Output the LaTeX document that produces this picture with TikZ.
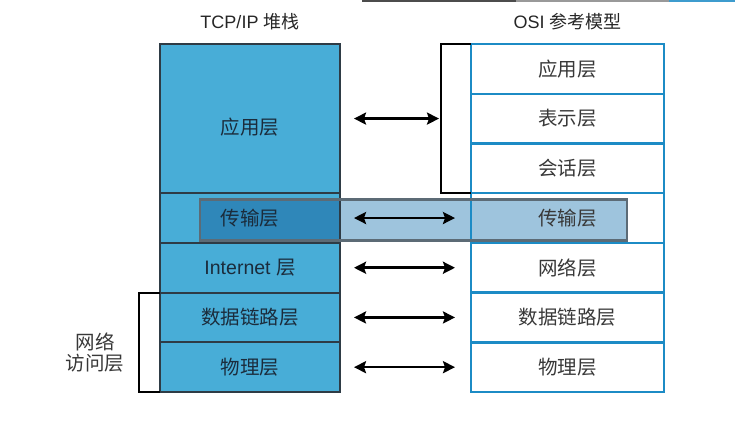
\documentclass[tikz,border=0pt]{standalone}
\usepackage{fontspec}
\setmainfont{Liberation Sans}
\newfontfamily\cjk{Noto Sans CJK SC}
\usetikzlibrary{arrows.meta}
\pgfdeclarelayer{back}
\pgfsetlayers{back,main}
\definecolor{tcpblue}{HTML}{48ADD7}
\definecolor{tcpline}{HTML}{2E3B45}
\definecolor{osiblue}{HTML}{1C8BC5}
\definecolor{hilight}{HTML}{9EC4DD}
\definecolor{hidark}{HTML}{2F87B9}
\definecolor{hiborder}{HTML}{5C6B76}
\definecolor{tcptext}{HTML}{1B2C3C}
\definecolor{ositext}{HTML}{383838}
\begin{document}
\begin{tikzpicture}[x=1pt, y=-1pt,
  rowfont/.style={font=\fontsize{19.5}{21}\selectfont},
  tcprow/.style={draw=tcpline, line width=1.8pt, minimum width=180pt, minimum height=49.72pt,
    inner sep=0pt, outer sep=0pt, text=tcptext, rowfont},
  osirow/.style={draw=osiblue, line width=2.4pt, minimum width=193pt, minimum height=49.72pt,
    inner sep=0pt, outer sep=0pt, text=ositext, rowfont},
  layerarrow/.style={{Stealth[length=12pt,width=12pt,inset=2pt]}-{Stealth[length=12pt,width=12pt,inset=2pt]}, line width=2.5pt},
  brace/.style={line width=2pt, line join=miter}]
  \useasboundingbox (0,0) rectangle (735,425);
  \fill[black!70] (362,0) rectangle (516,2.5);
  \fill[black!40] (516,0) rectangle (669,2.5);
  \fill[osiblue!85!white] (669,0) rectangle (735,2.5);

  \node[font=\fontsize{18}{20}\selectfont, text=black!85] (tcphead) at (250,22) {TCP/IP {\cjk 堆栈}};
  \node[font=\fontsize{18}{20}\selectfont, text=black!85] (osihead) at (567.5,22) {OSI {\cjk 参考模型}};

  \node[tcprow, minimum height=149.16pt, anchor=north] (tapp) at (250,44) {};
  \node[tcprow, anchor=north] (ttrans) at (tapp.south) {\cjk 传输层};
  \node[tcprow, anchor=north] (tnet) at (ttrans.south) {Internet {\cjk 层}};
  \node[tcprow, anchor=north] (tlink) at (tnet.south) {\cjk 数据链路层};
  \node[tcprow, anchor=north] (tphy) at (tlink.south) {\cjk 物理层};
  \node[text=tcptext, rowfont] (tapplbl) at ([yshift=-9pt]tapp.center) {\cjk 应用层};

  \node[osirow, anchor=north] (oapp) at (567.5,44) {\cjk 应用层};
  \node[osirow, anchor=north] (opres) at (oapp.south) {\cjk 表示层};
  \node[osirow, anchor=north] (osess) at (opres.south) {\cjk 会话层};
  \node[osirow, anchor=north] (otrans) at (osess.south) {\cjk 传输层};
  \node[osirow, anchor=north] (onet) at (otrans.south) {\cjk 网络层};
  \node[osirow, anchor=north] (olink) at (onet.south) {\cjk 数据链路层};
  \node[osirow, anchor=north] (ophy) at (olink.south) {\cjk 物理层};

  \coordinate (hinw) at (200,199.5);
  \coordinate (hise) at (627,240.5);
  \begin{pgfonlayer}{back}
    \fill[tcpblue] (tapp.north west) rectangle (tphy.south east);
    \fill[hidark] (hinw) rectangle (ttrans.east |- hise);
    \fill[hilight] (ttrans.east |- hinw) rectangle (hise);
  \end{pgfonlayer}
  \draw[hiborder, line width=2.2pt] (hinw) rectangle (hise);

  \draw[brace] (oapp.north west) -- ++(-30,0) coordinate (brtop) |- (osess.south west);
  \draw[brace] (tlink.north west) -- ++(-21,0) |- (tphy.south west);
  \node[align=center, text=ositext, rowfont] (netacc) at (95,353) {\cjk 网络\\\cjk 访问层};

  \draw[layerarrow] ([xshift=14pt]tapp.east) -- ([xshift=-2pt]brtop |- tapp.east);
  \draw[layerarrow] ([xshift=14pt]ttrans.east) -- ([xshift=-16pt]otrans.west);
  \draw[layerarrow] ([xshift=14pt]tnet.east) -- ([xshift=-16pt]onet.west);
  \draw[layerarrow] ([xshift=14pt]tlink.east) -- ([xshift=-16pt]olink.west);
  \draw[layerarrow] ([xshift=14pt]tphy.east) -- ([xshift=-16pt]ophy.west);
\end{tikzpicture}
\end{document}
